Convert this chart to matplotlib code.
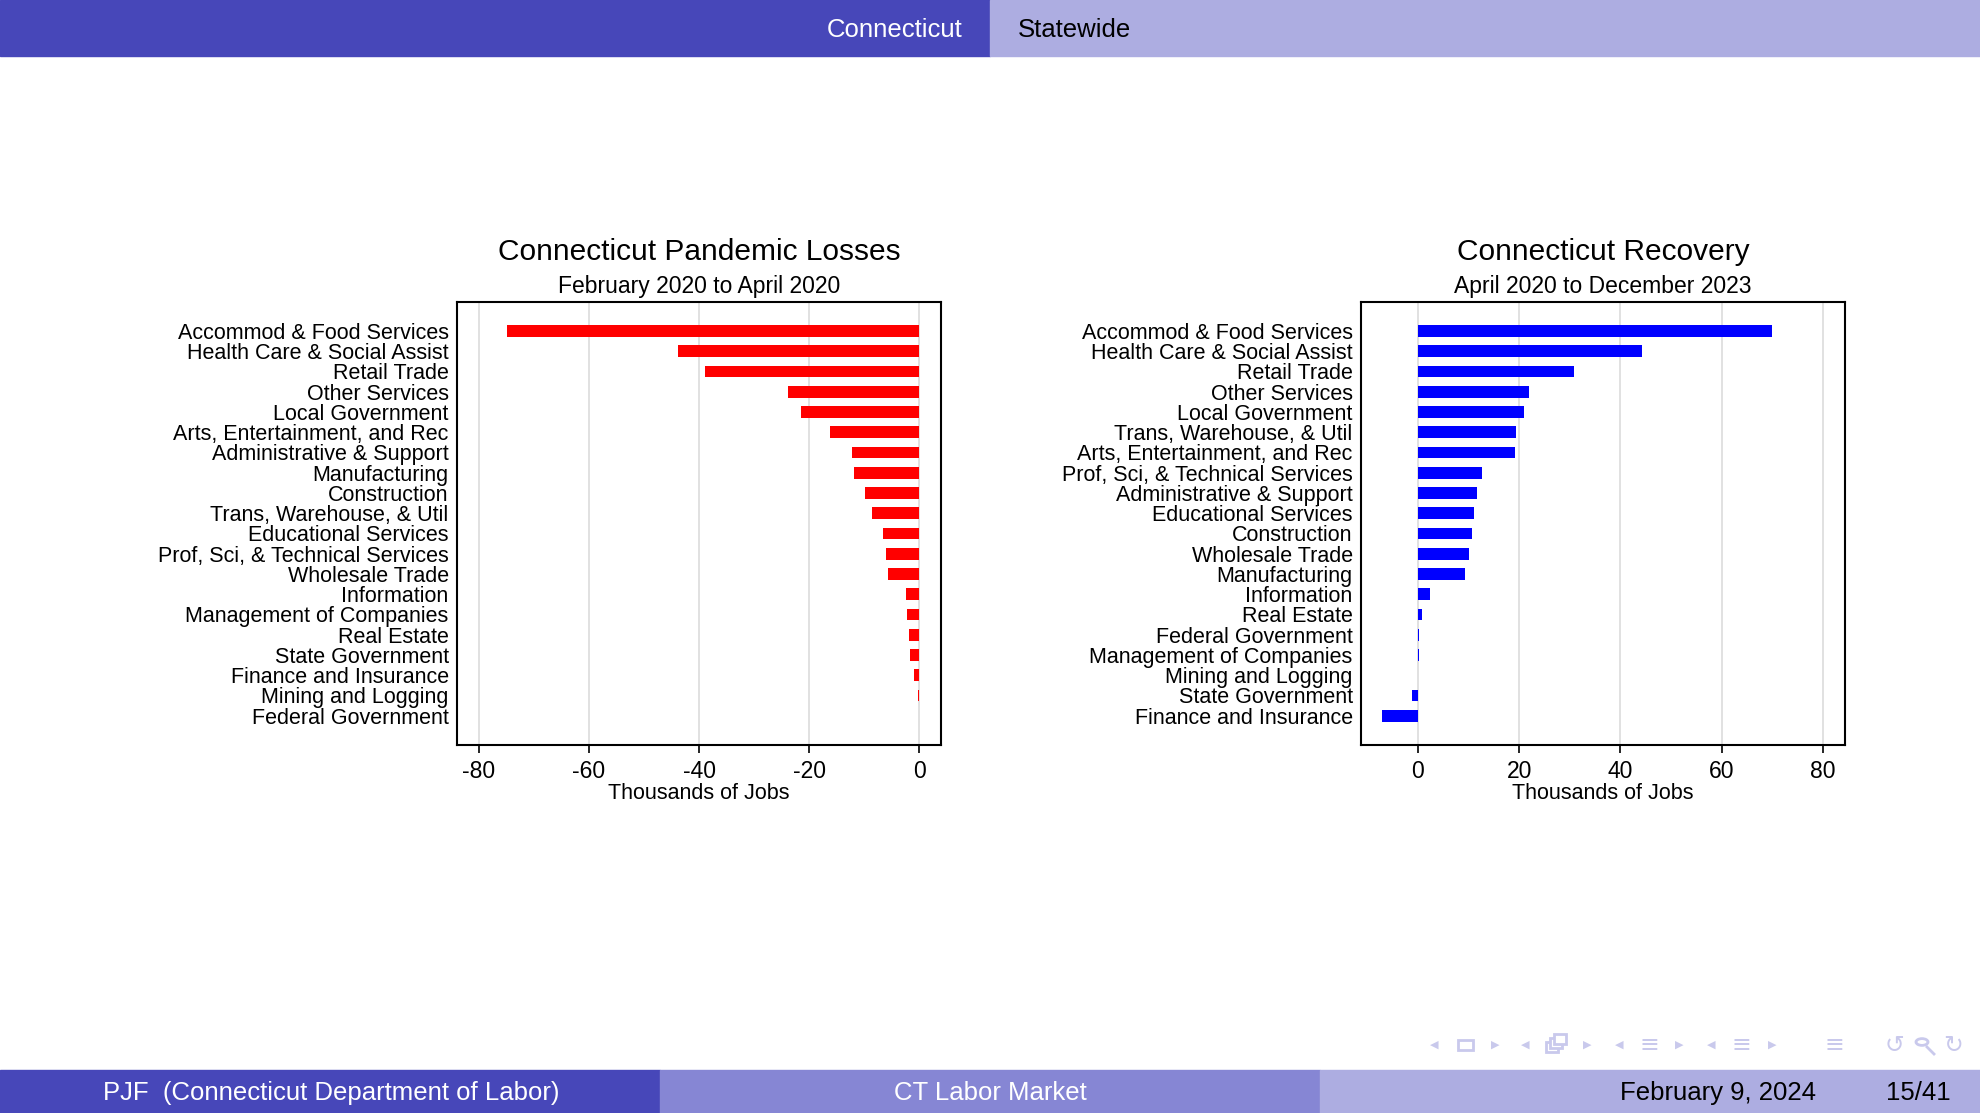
import numpy as np
import matplotlib
matplotlib.use("Agg")
import matplotlib.pyplot as plt
from matplotlib.patches import Rectangle, Circle
from matplotlib.lines import Line2D

plt.rcParams['font.family'] = ['Liberation Sans', 'DejaVu Sans']

# --- data -------------------------------------------------------------
loss_labels = ["Accommod & Food Services", "Health Care & Social Assist", "Retail Trade",
               "Other Services", "Local Government", "Arts, Entertainment, and Rec",
               "Administrative & Support", "Manufacturing", "Construction",
               "Trans, Warehouse, & Util", "Educational Services",
               "Prof, Sci, & Technical Services", "Wholesale Trade", "Information",
               "Management of Companies", "Real Estate", "State Government",
               "Finance and Insurance", "Mining and Logging", "Federal Government"]
loss_values = [-75.0, -43.9, -38.9, -23.9, -21.5, -16.2, -12.1, -11.9, -9.9, -8.5,
               -6.6, -6.0, -5.6, -2.3, -2.1, -1.8, -1.6, -0.9, -0.2, 0.0]

rec_labels = ["Accommod & Food Services", "Health Care & Social Assist", "Retail Trade",
              "Other Services", "Local Government", "Trans, Warehouse, & Util",
              "Arts, Entertainment, and Rec", "Prof, Sci, & Technical Services",
              "Administrative & Support", "Educational Services", "Construction",
              "Wholesale Trade", "Manufacturing", "Information", "Real Estate",
              "Federal Government", "Management of Companies", "Mining and Logging",
              "State Government", "Finance and Insurance"]
rec_values = [69.9, 44.3, 30.8, 22.0, 21.0, 19.3, 19.2, 12.6, 11.7, 11.0,
              10.8, 10.2, 9.4, 2.4, 0.8, 0.3, 0.2, 0.0, -1.1, -7.0]

loss_ticks = [-80, -60, -40, -20, 0]
rec_ticks = [0, 20, 40, 60, 80]

W, H = 1980, 1113
DARK = '#4747b9'
MID = '#8686d4'
LIGHT = '#adade1'
NAV = '#c9c9ec'

fig = plt.figure(figsize=(W / 100, H / 100), dpi=100)


def fx(x):
    return x / W


def fy(y):
    return 1 - y / H


# header / footer bands
fig.patches.append(Rectangle((0, fy(56)), 0.5, 56 / H, transform=fig.transFigure,
                             color=DARK, zorder=0))
fig.patches.append(Rectangle((0.5, fy(56)), 0.5, 56 / H, transform=fig.transFigure,
                             color=LIGHT, zorder=0))
fig.text(fx(962), fy(30), "Connecticut", color='white', fontsize=18.5, ha='right', va='center')
fig.text(fx(1018), fy(30), "Statewide", color='black', fontsize=18.5, ha='left', va='center')

for x0, col in [(0, DARK), (660, MID), (1320, LIGHT)]:
    fig.patches.append(Rectangle((fx(x0), 0), 660 / W, 43 / H, transform=fig.transFigure,
                                 color=col, zorder=0))
fig.text(fx(331), fy(1093), "PJF  (Connecticut Department of Labor)", color='white',
         fontsize=18.5, ha='center', va='center')
fig.text(fx(990), fy(1093), "CT Labor Market", color='white', fontsize=18.5,
         ha='center', va='center')
fig.text(fx(1620), fy(1093), "February 9, 2024", color='black', fontsize=18.5,
         ha='left', va='center')
fig.text(fx(1951), fy(1093), "15/41", color='black', fontsize=18.5, ha='right', va='center')

# navigation symbols
ny = fy(1045)
for x, s in [(1434, '◀'), (1495, '▶'), (1525, '◀'), (1587, '▶'), (1619, '◀'),
             (1679, '▶'), (1711, '◀'), (1772, '▶')]:
    fig.text(fx(x), ny, s, color=NAV, fontsize=8, ha='center', va='center',
             family='DejaVu Sans')
for x, s, fs in [(1649, '≡', 17), (1741, '≡', 17), (1834, '≡', 17),
                 (1894, '↺', 17), (1953, '↻', 17)]:
    fig.text(fx(x), ny, s, color=NAV, fontsize=fs, ha='center', va='center',
             family='DejaVu Sans')
# frame icon and stacked-frames icon
fig.patches.append(Rectangle((fx(1458), fy(1050)), 15 / W, 10 / H, transform=fig.transFigure,
                             fill=False, ec=NAV, lw=2))
for dx, dy in [(0, 0), (4, -4), (8, -8)]:
    fig.patches.append(Rectangle((fx(1546 + dx), fy(1052 + dy)), 12 / W, 10 / H,
                                 transform=fig.transFigure, fc='white', ec=NAV, lw=2))
# search icon
fig.patches.append(Circle((fx(1922), fy(1042)), 6 / W, transform=fig.transFigure,
                          fill=False, ec=NAV, lw=2))
fig.lines.append(Line2D([fx(1927), fx(1934)], [fy(1047), fy(1054)],
                        transform=fig.transFigure, color=NAV, lw=2))


def draw_panel(left_px, values, labels, color, ticks, xlim, title, subtitle):
    ax = fig.add_axes([fx(left_px), fy(745), 484 / W, 443 / H])
    ypos = np.arange(len(values))
    ax.barh(ypos, values, height=0.58, color=color, zorder=3)
    ax.set_ylim(len(values) - 1 + 1.45, -1.43)
    ax.set_xlim(*xlim)
    ax.set_yticks(ypos)
    ax.set_yticklabels(labels, fontsize=15.5)
    ax.tick_params(axis='y', length=0, pad=6)
    ax.set_xticks(ticks)
    ax.set_xticklabels([str(t) for t in ticks], fontsize=16.5)
    ax.tick_params(axis='x', length=6, width=1.2, pad=5, direction='out')
    ax.xaxis.grid(True, color='#dcdcdc', lw=1.2, zorder=0)
    ax.set_axisbelow(True)
    for sp in ax.spines.values():
        sp.set_linewidth(1.5)
    ax.set_xlabel("Thousands of Jobs", fontsize=15.5, labelpad=0)
    cx = left_px + 242
    fig.text(fx(cx), fy(252), title, fontsize=21.5, ha='center', va='center')
    fig.text(fx(cx), fy(287), subtitle, fontsize=16.5, ha='center', va='center')
    return ax


draw_panel(457, loss_values, loss_labels, '#ff0000', loss_ticks, (-84, 4),
           "Connecticut Pandemic Losses", "February 2020 to April 2020")
draw_panel(1361, rec_values, rec_labels, '#0000ff', rec_ticks, (-11.2, 84.3),
           "Connecticut Recovery", "April 2020 to December 2023")

fig.savefig("out.png", dpi=100)
